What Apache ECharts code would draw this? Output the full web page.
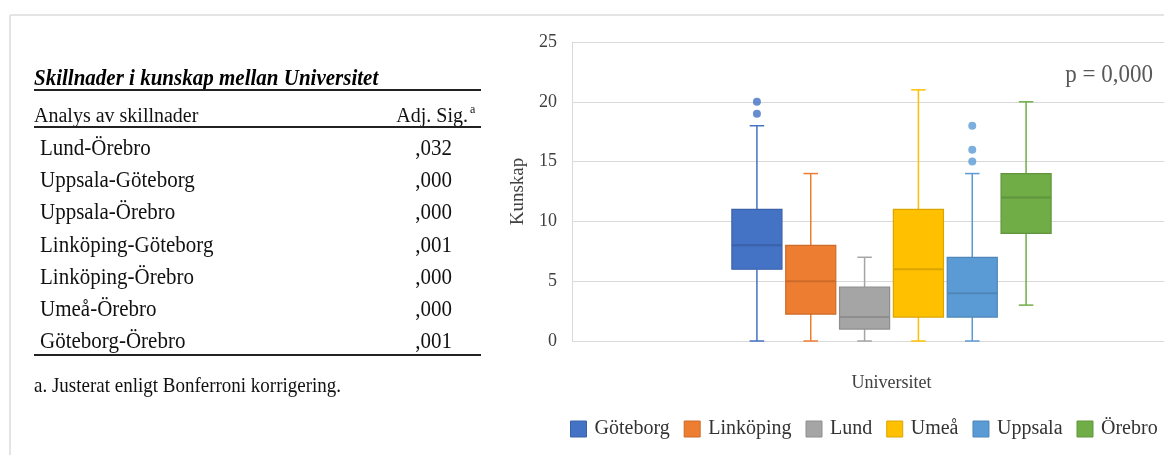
<!DOCTYPE html>
<html>
<head>
<meta charset="utf-8">
<script src="https://cdn.jsdelivr.net/npm/echarts@6/dist/echarts.min.js"></script>
<style>
  html, body { margin: 0; padding: 0; background: #ffffff; }
  #chart { width: 1164px; height: 455px; }
</style>
</head>
<body>
<div id="chart"></div>
<script>
// ---- Box plot data: Kunskap per universitet ----
const universities = ['Göteborg', 'Linköping', 'Lund', 'Umeå', 'Uppsala', 'Örebro'];
const whiskerLow  = [0, 0, 0, 0, 0, 3];
const q1          = [6, 2.25, 1, 2, 2, 9];
const median      = [8, 5, 2, 6, 4, 12];
const q3          = [11, 8, 4.5, 11, 7, 14];
const whiskerHigh = [18, 14, 7, 21, 14, 20];
const outliers    = [[19, 20], [], [], [], [15, 16, 18], []];

// y axis ticks
const yMin = 0;
const yMax = 25;
const yStep = 5;

// ---- Post-hoc comparison table ----
const tableTitle = 'Skillnader i kunskap mellan Universitet';
const headerLeft = 'Analys av skillnader';
const headerRight = 'Adj. Sig.';
const headerNote = 'a';
const comparisons = ['Lund-Örebro', 'Uppsala-Göteborg', 'Uppsala-Örebro', 'Linköping-Göteborg',
                     'Linköping-Örebro', 'Umeå-Örebro', 'Göteborg-Örebro'];
const adjSig = [',032', ',000', ',000', ',001', ',000', ',000', ',001'];
const footnote = 'a. Justerat enligt Bonferroni korrigering.';
const pValueText = 'p = 0,000';

// ---- Styling ----
const SERIF = '"Liberation Serif", "DejaVu Serif", serif';
const fills = ['#4472C4', '#ED7D31', '#A5A5A5', '#FFC000', '#5B9BD5', '#70AD47'];
const edges = ['#3A62A8', '#CC6B2A', '#8E8E8E', '#DBA500', '#4E86B8', '#60953D'];
const gridLine = '#d9d9d9';
const axisText = '#404040';

function boxRenderer(idx) {
  return function (params, api) {
    const x = api.value(0);
    const lo = api.coord([x, api.value(1)]);
    const b1 = api.coord([x, api.value(2)]);
    const md = api.coord([x, api.value(3)]);
    const b3 = api.coord([x, api.value(4)]);
    const hi = api.coord([x, api.value(5)]);
    const band = api.size([1, 0])[0];
    const boxW = band * 0.93;
    const capW = band * 0.27;
    const cx = lo[0];
    const whisker = { stroke: fills[idx], lineWidth: 1.5 };
    return {
      type: 'group',
      children: [
        { type: 'line', shape: { x1: cx, y1: lo[1], x2: cx, y2: b1[1] }, style: whisker },
        { type: 'line', shape: { x1: cx, y1: b3[1], x2: cx, y2: hi[1] }, style: whisker },
        { type: 'line', shape: { x1: cx - capW / 2, y1: lo[1], x2: cx + capW / 2, y2: lo[1] }, style: whisker },
        { type: 'line', shape: { x1: cx - capW / 2, y1: hi[1], x2: cx + capW / 2, y2: hi[1] }, style: whisker },
        { type: 'rect', shape: { x: cx - boxW / 2, y: b3[1], width: boxW, height: b1[1] - b3[1] },
          style: { fill: fills[idx], stroke: edges[idx], lineWidth: 1.2 } },
        { type: 'line', shape: { x1: cx - boxW / 2, y1: md[1], x2: cx + boxW / 2, y2: md[1] },
          style: { stroke: edges[idx], lineWidth: 2 } }
      ]
    };
  };
}

const series = [];
universities.forEach(function (name, i) {
  series.push({
    name: name,
    type: 'custom',
    xAxisIndex: 1,
    yAxisIndex: 1,
    itemStyle: { color: fills[i], borderColor: edges[i] },
    encode: { x: 0, y: [1, 2, 3, 4, 5] },
    data: [[i, whiskerLow[i], q1[i], median[i], q3[i], whiskerHigh[i]]],
    renderItem: boxRenderer(i),
    z: 3
  });
});
universities.forEach(function (name, i) {
  if (!outliers[i].length) return;
  series.push({
    name: name,
    type: 'scatter',
    xAxisIndex: 1,
    yAxisIndex: 1,
    symbol: 'circle',
    symbolSize: 8,
    itemStyle: { color: fills[i] },
    data: outliers[i].map(function (v) { return [i, v]; }),
    z: 4
  });
});

// table and annotation texts
const graphics = [];
const TABLE_LEFT = 34, TABLE_RIGHT = 481, ROW_X = 40, VALUE_RIGHT = 452;
const ROW_TOP = 149, ROW_STEP = 32.2;
function hline(x1, x2, y, color, w) {
  return { type: 'line', shape: { x1: x1, y1: y, x2: x2, y2: y }, style: { stroke: color, lineWidth: w }, silent: true };
}
function txt(text, x, y, font, align, color) {
  return { type: 'text', x: x, y: y, scaleY: 1.08, silent: true,
    style: { text: text, font: font, fill: color || '#111111', textAlign: align || 'left', textVerticalAlign: 'middle' } };
}
// page frame
graphics.push(hline(10, 1164, 15, '#e4e4e4', 2));
graphics.push({ type: 'line', shape: { x1: 10, y1: 15, x2: 10, y2: 455 }, style: { stroke: '#e4e4e4', lineWidth: 2 }, silent: true });
// table
graphics.push(txt(tableTitle, TABLE_LEFT, 79, 'italic bold 21px ' + SERIF, 'left', '#000000'));
graphics.push(hline(TABLE_LEFT, TABLE_RIGHT, 90, '#222222', 2));
graphics.push(txt(headerLeft, TABLE_LEFT, 116, '20px ' + SERIF));
graphics.push(txt(headerRight, 468, 116, '20px ' + SERIF, 'right'));
graphics.push(txt(headerNote, 470, 110, '12px ' + SERIF, 'left'));
graphics.push(hline(TABLE_LEFT, TABLE_RIGHT, 127, '#222222', 2));
comparisons.forEach(function (c, i) {
  const y = ROW_TOP + i * ROW_STEP;
  graphics.push(txt(c, ROW_X, y, '21px ' + SERIF));
  graphics.push(txt(adjSig[i], VALUE_RIGHT, y, '21px ' + SERIF, 'right'));
});
graphics.push(hline(TABLE_LEFT, TABLE_RIGHT, 355, '#222222', 2));
graphics.push(txt(footnote, TABLE_LEFT, 387, '19px ' + SERIF));
// test statistic
graphics.push(txt(pValueText, 1153, 75, '23px ' + SERIF, 'right', '#595959'));

const option = {
  animation: false,
  backgroundColor: '#ffffff',
  textStyle: { fontFamily: SERIF },
  grid: [
    { left: 572, top: 42, width: 592, height: 299 },
    { left: 730, top: 42, width: 323, height: 299 }
  ],
  xAxis: [
    { gridIndex: 0, type: 'category', data: [''], show: false },
    { gridIndex: 1, type: 'category', data: universities,
      axisLine: { show: false }, axisTick: { show: false }, axisLabel: { show: false },
      splitLine: { show: false },
      name: 'Universitet', nameLocation: 'middle', nameGap: 33,
      nameTextStyle: { fontFamily: SERIF, fontSize: 18, color: axisText } }
  ],
  yAxis: [
    { gridIndex: 0, type: 'value', min: yMin, max: yMax, interval: yStep,
      axisLine: { show: true, lineStyle: { color: gridLine, width: 1 } },
      axisTick: { show: false },
      axisLabel: { margin: 15, fontFamily: SERIF, fontSize: 18, color: axisText },
      splitLine: { show: true, lineStyle: { color: gridLine, width: 1.2 } },
      name: 'Kunskap', nameLocation: 'middle', nameGap: 44,
      nameTextStyle: { fontFamily: SERIF, fontSize: 19, color: axisText } },
    { gridIndex: 1, type: 'value', min: yMin, max: yMax, interval: yStep, show: false,
      splitLine: { show: false } }
  ],
  legend: {
    left: 570,
    top: 419,
    width: 594,
    padding: 0,
    itemWidth: 16,
    itemHeight: 16,
    itemGap: 14,
    selectedMode: false,
    textStyle: { fontFamily: SERIF, fontSize: 20, color: '#333333', padding: [0, 0, 0, 3] },
    data: universities.map(function (n, i) {
      return { name: n, icon: 'rect', itemStyle: { color: fills[i], borderColor: edges[i], borderWidth: 1 } };
    })
  },
  graphic: graphics,
  series: series
};

const chart = echarts.init(document.getElementById('chart'), null, { renderer: 'canvas' });
chart.setOption(option);
</script>
</body>
</html>
